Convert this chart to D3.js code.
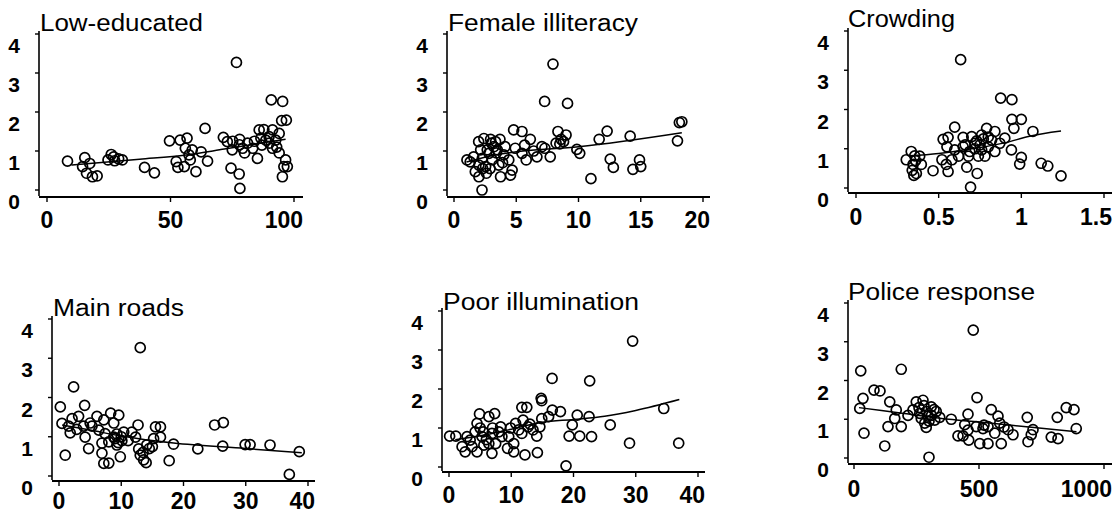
<!DOCTYPE html>
<html><head><meta charset="utf-8">
<script src="https://cdn.jsdelivr.net/npm/d3@7"></script>
<style>body{margin:0;background:#fff}svg{display:block}</style>
</head><body>
<svg id="c" width="1117" height="515"></svg>
<script>
// ---------- DATA ----------
const titles = ["Low-educated","Female illiteracy","Crowding","Main roads","Poor illumination","Police response"];
const yTicks = [0,1,2,3,4];
const xTicks1 = [0,50,100];
const xTicks2 = [0,5,10,15,20];
const xTicks3 = [0,0.5,1,1.5];
const xTicks4 = [0,10,20,30,40];
const xTicks5 = [0,10,20,30,40];
const xTicks6 = [0,500,1000];

const lowEducated = [[76.7,3.27],[90.8,2.31],[95.4,2.27],[95,1.78],[96.9,1.79],[64,1.58],[49.6,1.26],[53.9,1.28],[56.7,1.33],[71.4,1.35],[8.3,0.74],[15.3,0.83],[14.4,0.6],[17.3,0.68],[16,0.43],[18.4,0.34],[20.3,0.36],[26,0.91],[24.7,0.77],[27.4,0.75],[30.5,0.77],[39.5,0.58],[43.5,0.44],[52.3,0.73],[53,0.58],[55.6,0.6],[58.8,1.03],[60.3,0.47],[62.4,0.98],[65,0.74],[58,0.77],[56,1.07],[74.5,0.56],[77.8,0.41],[78.1,0.04],[73,1.24],[75,1.03],[79.2,1.07],[85.2,0.81],[85.9,1.54],[87.8,1.55],[89.9,1.37],[94,1.45],[95.3,0.34],[96.6,0.77],[97.3,0.6],[95.9,0.6],[94,0.95],[91.3,1.07],[83.3,1.07],[81.2,1.2],[77.9,1.16],[75.2,1.25],[92.6,1.28],[88.6,1.28],[86.6,1.33],[91.3,1.54],[78,1.3],[80,0.95],[87,1.15],[90,1.2],[93,1.1],[84,1.25],[27,0.85],[29,0.8],[57.5,0.9]];
const femaleIlliteracy = [[7.95,3.23],[7.28,2.27],[9.12,2.22],[18.3,1.75],[18.1,1.73],[17.95,1.26],[12.3,1.51],[14.15,1.38],[11.66,1.3],[9.87,1.04],[10.1,0.94],[12.55,0.79],[12.8,0.58],[14.9,0.77],[15.0,0.6],[14.37,0.53],[11,0.29],[8.35,1.5],[9.0,1.41],[8.8,1.24],[8.5,1.18],[7.73,0.85],[7.06,1.11],[7.3,1.07],[4.79,1.54],[5.46,1.5],[6.13,1.3],[5.67,1.15],[4.92,1.07],[5.8,0.77],[6.66,0.85],[6.4,1.0],[5.46,0.94],[1.04,0.77],[1.3,0.72],[1.98,1.24],[2.4,1.32],[2.94,1.3],[3.69,1.3],[3.2,1.11],[2.67,1.03],[2.27,0.81],[2.0,0.64],[1.71,0.47],[2.0,0.34],[2.25,0.0],[2.6,0.43],[3.74,0.34],[4.54,0.38],[4.4,0.77],[4.0,0.9],[3.48,1.03],[3.07,0.77],[2.54,0.6],[3.6,0.64],[4.67,0.51],[4.1,1.11],[3.34,1.24],[2.8,0.94],[1.58,0.85],[2.14,1.03],[3.0,1.2],[3.4,0.95],[2.9,0.55],[2.3,0.55],[3.9,0.7],[8.6,1.3],[8.2,1.2]];
const crowding = [[0.633,3.27],[0.875,2.29],[0.943,2.25],[0.943,1.75],[1.0,1.75],[0.955,1.52],[1.07,1.44],[0.597,1.55],[1.24,0.31],[1.12,0.63],[1.16,0.56],[1.0,0.78],[0.99,0.61],[0.94,0.97],[0.9,1.27],[0.693,0.02],[0.733,0.37],[0.67,0.53],[0.466,0.44],[0.557,0.42],[0.527,1.24],[0.557,1.29],[0.648,1.29],[0.79,1.52],[0.84,1.44],[0.334,0.93],[0.355,0.82],[0.304,0.72],[0.345,0.6],[0.365,0.37],[0.35,0.32],[0.395,0.6],[0.385,0.81],[0.52,0.72],[0.546,0.6],[0.597,0.97],[0.648,1.05],[0.688,0.93],[0.72,1.14],[0.76,0.97],[0.8,1.05],[0.74,0.81],[0.82,1.22],[0.87,1.14],[0.62,0.81],[0.58,0.72],[0.7,1.31],[0.76,1.35],[0.68,0.81],[0.78,0.81],[0.84,0.93],[0.73,1.2],[0.75,1.1],[0.77,1.25],[0.72,1.0],[0.66,1.1],[0.8,1.3],[0.34,0.45],[0.36,0.7],[0.55,1.05]];
const mainRoads = [[13.05,3.27],[2.35,2.27],[0.21,1.76],[4.12,1.8],[0.48,1.34],[1.0,0.53],[37.0,0.04],[38.6,0.62],[33.9,0.79],[30.7,0.8],[29.9,0.8],[25.0,1.3],[26.4,1.36],[26.3,0.76],[22.3,0.69],[18.4,0.81],[17.7,0.39],[16.3,1.25],[15.5,1.25],[16.3,0.99],[15.0,0.75],[13.6,0.41],[14.0,0.34],[13.05,0.53],[12.8,0.69],[14.1,0.79],[15.2,0.95],[12.7,1.3],[12.3,0.99],[11.7,1.12],[9.85,0.49],[9.3,0.79],[10.4,1.12],[9.6,1.55],[8.3,1.6],[7.2,1.43],[6.1,1.52],[5.3,1.27],[6.4,1.17],[7.4,1.08],[8.8,0.99],[8.0,0.87],[6.9,0.84],[6.9,0.58],[7.2,0.32],[8.0,0.33],[4.76,0.7],[4.2,0.99],[3.95,1.27],[3.15,1.52],[2.1,1.46],[1.55,1.27],[1.8,1.1],[2.85,1.19],[5.0,1.35],[8.8,1.35],[10.1,0.9],[11.1,0.9],[9.3,1.07],[9.0,0.95],[9.5,0.85],[13.5,0.6],[14.5,0.7],[10,1.0]];
const poorIllumination = [[29.5,3.23],[16.56,2.27],[22.6,2.21],[34.5,1.5],[36.9,0.61],[29.0,0.61],[25.9,1.08],[22.9,0.78],[21.0,0.79],[19.3,0.79],[18.8,0.03],[22.5,1.29],[20.6,1.33],[19.8,1.08],[17.9,1.42],[16.6,1.46],[14.8,1.76],[14.9,1.7],[16.0,1.29],[14.9,1.24],[14.6,1.03],[14.1,0.79],[14.2,0.37],[12.2,0.31],[12.5,1.53],[11.7,1.53],[11.9,1.2],[12.7,1.03],[11.7,0.86],[10.7,1.12],[9.9,1.0],[9.6,0.78],[9.4,0.48],[7.34,1.37],[6.4,1.29],[4.9,1.36],[4.5,1.12],[4.2,0.9],[5.3,0.78],[6.9,0.86],[6.4,0.6],[6.9,0.35],[4.5,0.39],[2.6,0.39],[2.1,0.52],[0.1,0.79],[1.1,0.79],[2.9,0.78],[3.4,0.69],[5.0,1.0],[8.3,1.03],[8.5,0.78],[10.4,0.6],[11.2,0.95],[5.6,0.56],[3.7,0.52],[7.5,0.6],[10.4,0.39],[6.0,0.7],[7.0,1.0],[5.5,0.9],[8.0,0.9],[13,1.1],[13.5,0.95]];
const policeResponse = [[477,3.3],[27,2.25],[189,2.29],[80,1.75],[104,1.73],[36,1.54],[23,1.28],[40,0.64],[123,0.31],[300,0.02],[143,1.45],[169,1.24],[163,1.02],[136,0.81],[189,0.81],[216,1.1],[249,1.45],[276,1.49],[309,1.32],[329,1.2],[296,1.08],[263,1.15],[283,0.9],[323,0.98],[343,1.05],[236,1.24],[389,1.0],[492,1.56],[456,1.13],[416,0.57],[436,0.57],[456,0.72],[459,0.46],[503,0.37],[536,0.37],[516,0.76],[536,0.81],[549,1.25],[576,1.08],[583,0.9],[563,0.64],[589,0.37],[616,0.73],[636,0.6],[693,1.05],[696,0.42],[709,0.6],[716,0.73],[789,0.54],[816,0.5],[813,1.05],[849,1.3],[880,1.25],[889,0.76],[489,0.81],[443,0.86],[269,1.02],[289,0.79],[260,1.3],[290,1.2],[310,1.1],[300,0.95],[320,1.25],[280,1.35],[600,0.8],[520,0.85]];

// smoothed fit lines
const fitLowEducated = [[9.9,0.64],[37.5,0.79],[56.3,0.9],[71.8,1.05],[96.6,1.3]];
const fitFemaleIlliteracy = [[1,0.72],[3,0.88],[5,0.98],[10,1.11],[18.3,1.47]];
const fitCrowding = [[0.32,0.82],[0.5,0.88],[0.7,1.0],[0.9,1.15],[1.05,1.32],[1.24,1.45]];
const fitMainRoads = [[0.5,1.3],[5,1.17],[10,1.02],[18.4,0.84],[30,0.7],[39,0.59]];
const fitPoorIllumination = [[1,0.7],[5,0.8],[10,0.97],[15,1.15],[20,1.22],[25,1.3],[30,1.45],[37,1.73]];
const fitPoliceResponse = [[20,1.3],[200,1.15],[380,1.0],[500,0.93],[700,0.8],[890,0.68]];

const seriesPts = [lowEducated,femaleIlliteracy,crowding,mainRoads,poorIllumination,policeResponse];
const seriesFit = [fitLowEducated,fitFemaleIlliteracy,fitCrowding,fitMainRoads,fitPoorIllumination,fitPoliceResponse];
const seriesXTicks = [xTicks1,xTicks2,xTicks3,xTicks4,xTicks5,xTicks6];

// ---------- LAYOUT ----------
const layout = [
  {ax:39, ay:197, x0:47, x1:294, xmax:100, yb:190, yt:34, xend:303, tx:40, tb:31, tw:163, lb:31},
  {ax:447, ay:197, x0:454, x1:703, xmax:20, yb:190, yt:34, xend:710, tx:448, tb:31, tw:190, lb:31},
  {ax:848, ay:193, x0:856, x1:1104, xmax:1.5, yb:188, yt:31, xend:1112, tx:848, tb:27, tw:107, lb:32},
  {ax:52, ay:481, x0:59, x1:308, xmax:40, yb:476, yt:319, xend:315, tx:53, tb:316, tw:131, lb:28},
  {ax:442, ay:472, x0:449, x1:698, xmax:40, yb:467, yt:311, xend:705, tx:443, tb:310, tw:196, lb:31},
  {ax:848, ay:464, x0:854, x1:1104, xmax:1000, yb:458, yt:303, xend:1112, tx:848, tb:300, tw:187, lb:33}
];

const svg = d3.select("#c");
const FONT = "'Liberation Sans', Arial, Helvetica, sans-serif";

layout.forEach((L, i) => {
  const g = svg.append("g");
  const x = d3.scaleLinear().domain([0, L.xmax]).range([L.x0, L.x1]);
  const y = d3.scaleLinear().domain([0, 4]).range([L.yb, L.yt]);

  // y axis
  g.append("line").attr("x1", L.ax).attr("x2", L.ax).attr("y1", y(4) - 3).attr("y2", L.ay - 1)
    .attr("stroke", "#000").attr("stroke-width", 1.6);
  yTicks.forEach(t => {
    g.append("line").attr("x1", L.ax - 4).attr("x2", L.ax).attr("y1", y(t)).attr("y2", y(t))
      .attr("stroke", "#000").attr("stroke-width", 1.4);
    g.append("text").attr("x", L.ax - 19).attr("y", y(t) + 19)
      .attr("text-anchor", "end").attr("font-family", FONT).attr("font-weight", "bold")
      .attr("font-size", 21).attr("fill", "#000").text(t);
  });

  // x axis
  g.append("line").attr("x1", L.ax).attr("x2", L.xend).attr("y1", L.ay).attr("y2", L.ay)
    .attr("stroke", "#000").attr("stroke-width", 2);
  seriesXTicks[i].forEach(t => {
    g.append("line").attr("x1", x(t)).attr("x2", x(t)).attr("y1", L.ay).attr("y2", L.ay + 5)
      .attr("stroke", "#000").attr("stroke-width", 1.4);
    const tx = g.append("text").attr("y", L.ay + L.lb)
      .attr("text-anchor", "middle").attr("font-family", FONT).attr("font-weight", "bold")
      .attr("font-size", 23).attr("fill", "#000").text(t);
    tx.attr("x", x(t));
    const w = tx.node().getComputedTextLength();
    if (x(t) + w / 2 > L.xend) tx.attr("x", L.xend - w / 2);
  });

  // title
  g.append("text").attr("x", L.tx).attr("y", L.tb)
    .attr("font-family", FONT).attr("font-size", 23).attr("fill", "#000")
    .attr("textLength", L.tw).attr("lengthAdjust", "spacingAndGlyphs")
    .text(titles[i]);

  // fit line
  const line = d3.line().x(d => x(d[0])).y(d => y(d[1])).curve(d3.curveMonotoneX);
  g.append("path").datum(seriesFit[i]).attr("d", line)
    .attr("fill", "none").attr("stroke", "#000").attr("stroke-width", 1.5);

  // points
  g.selectAll("circle.p").data(seriesPts[i]).join("circle")
    .attr("class", "p")
    .attr("cx", d => x(d[0])).attr("cy", d => y(d[1])).attr("r", 5)
    .attr("fill", "none").attr("stroke", "#000").attr("stroke-width", 1.7);
});
</script>
</body></html>
